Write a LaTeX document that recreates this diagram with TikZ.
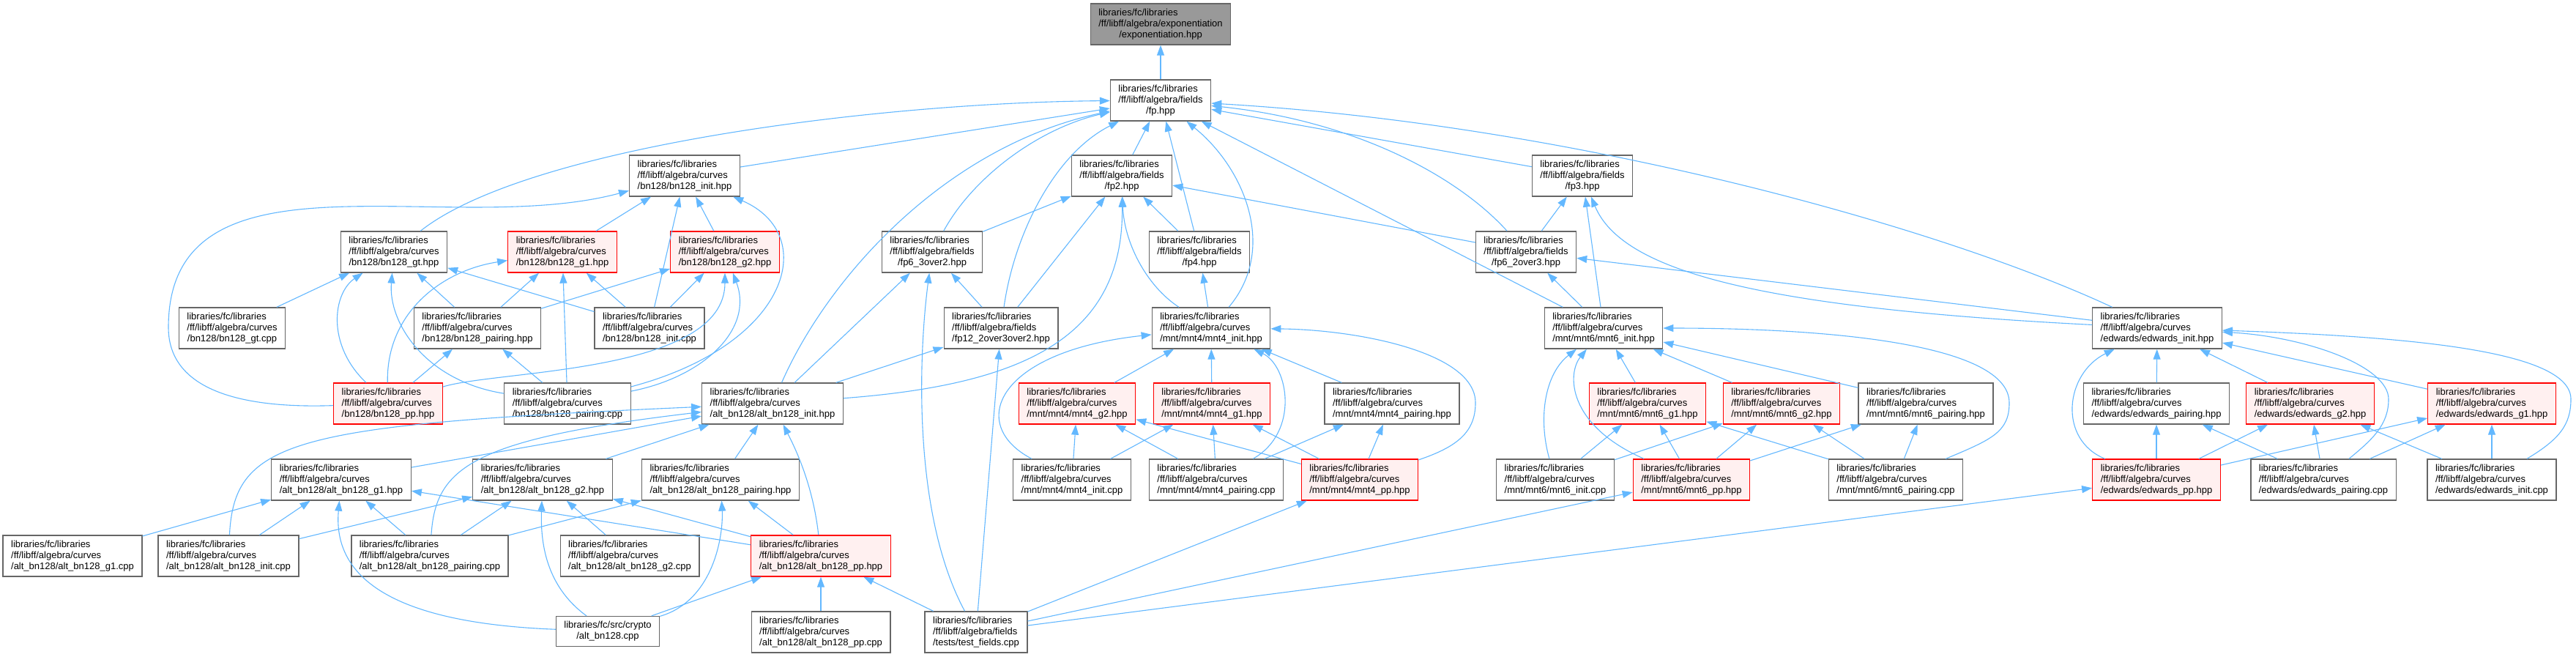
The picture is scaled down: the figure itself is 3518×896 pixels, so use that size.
\documentclass[tikz,border=0pt]{standalone}
\usepackage{fontspec}
\setmainfont{Liberation Sans}
\usepackage{xcolor}
\usepackage{tikz}
\usetikzlibrary{arrows.meta}
\definecolor{boxline}{HTML}{666666}
\definecolor{rootfill}{HTML}{999999}
\definecolor{hotfill}{HTML}{FFF0F0}
\definecolor{deplink}{HTML}{63B8FF}
\newcommand{\srcpath}[3]{\begin{tabular}{@{}l@{}}#1\\#2\\\multicolumn{1}{@{}c@{}}{#3}\end{tabular}}
\newcommand{\curvefile}[1]{\srcpath{libraries/fc/libraries}{/ff/libff/algebra/curves}{#1}}
\newcommand{\fieldfile}[1]{\srcpath{libraries/fc/libraries}{/ff/libff/algebra/fields}{#1}}

\begin{document}
\begin{tikzpicture}[x=0.5pt,y=-0.5pt,
  srcbox/.style={rectangle,draw=boxline,fill=white,line width=0.65pt,
                 inner xsep=5.5pt,inner ysep=0pt,minimum height=28pt,
                 font=\fontsize{6.5pt}{7.5pt}\selectfont},
  hotbox/.style={srcbox,draw=red,fill=hotfill},
  rootbox/.style={srcbox,fill=rootfill},
  dep/.style={draw=deplink,line width=0.55pt,-{Triangle[length=7pt,width=5pt]}}
]
\path[use as bounding box,fill=white] (0,0) rectangle (3518,896);
% root and fp
\node[rootbox] (expo) at (1585,33) {\srcpath{libraries/fc/libraries}{/ff/libff/algebra/exponentiation}{/exponentiation.hpp}};
\node[srcbox] (fp) at (1585,137) {\fieldfile{/fp.hpp}};
% row 2
\node[srcbox] (bninit) at (935,240) {\curvefile{/bn128/bn128\_init.hpp}};
\node[srcbox] (fp2) at (1532,240) {\fieldfile{/fp2.hpp}};
\node[srcbox] (fp3) at (2161,240) {\fieldfile{/fp3.hpp}};
% row 3
\node[srcbox] (bngt) at (538,344) {\curvefile{/bn128/bn128\_gt.hpp}};
\node[hotbox] (bng1) at (768,344) {\curvefile{/bn128/bn128\_g1.hpp}};
\node[hotbox] (bng2) at (990,344) {\curvefile{/bn128/bn128\_g2.hpp}};
\node[srcbox] (fp6a) at (1273,344) {\fieldfile{/fp6\_3over2.hpp}};
\node[srcbox] (fp4) at (1638,344) {\fieldfile{/fp4.hpp}};
\node[srcbox] (fp6b) at (2084,344) {\fieldfile{/fp6\_2over3.hpp}};
% row 4
\node[srcbox] (bngtcpp) at (317,448) {\curvefile{/bn128/bn128\_gt.cpp}};
\node[srcbox] (bnpair) at (652,448) {\curvefile{/bn128/bn128\_pairing.hpp}};
\node[srcbox] (bninitcpp) at (887,448) {\curvefile{/bn128/bn128\_init.cpp}};
\node[srcbox] (fp12) at (1367,448) {\fieldfile{/fp12\_2over3over2.hpp}};
\node[srcbox] (m4init) at (1654,448) {\curvefile{/mnt/mnt4/mnt4\_init.hpp}};
\node[srcbox] (m6init) at (2190,448) {\curvefile{/mnt/mnt6/mnt6\_init.hpp}};
\node[srcbox] (edinit) at (2946,448) {\curvefile{/edwards/edwards\_init.hpp}};
% row 5
\node[hotbox] (bnpp) at (530,551) {\curvefile{/bn128/bn128\_pp.hpp}};
\node[srcbox] (bnpaircpp) at (775,551) {\curvefile{/bn128/bn128\_pairing.cpp}};
\node[srcbox] (altinit) at (1055,551) {\curvefile{/alt\_bn128/alt\_bn128\_init.hpp}};
\node[hotbox] (m4g2) at (1471,551) {\curvefile{/mnt/mnt4/mnt4\_g2.hpp}};
\node[hotbox] (m4g1) at (1655,551) {\curvefile{/mnt/mnt4/mnt4\_g1.hpp}};
\node[srcbox] (m4pair) at (1901,551) {\curvefile{/mnt/mnt4/mnt4\_pairing.hpp}};
\node[hotbox] (m6g1) at (2250,551) {\curvefile{/mnt/mnt6/mnt6\_g1.hpp}};
\node[hotbox] (m6g2) at (2433,551) {\curvefile{/mnt/mnt6/mnt6\_g2.hpp}};
\node[srcbox] (m6pair) at (2630,551) {\curvefile{/mnt/mnt6/mnt6\_pairing.hpp}};
\node[srcbox] (edpair) at (2945,551) {\curvefile{/edwards/edwards\_pairing.hpp}};
\node[hotbox] (edg2) at (3155,551) {\curvefile{/edwards/edwards\_g2.hpp}};
\node[hotbox] (edg1) at (3403,551) {\curvefile{/edwards/edwards\_g1.hpp}};
% row 6
\node[srcbox] (altg1) at (466,655) {\curvefile{/alt\_bn128/alt\_bn128\_g1.hpp}};
\node[srcbox] (altg2) at (741,655) {\curvefile{/alt\_bn128/alt\_bn128\_g2.hpp}};
\node[srcbox] (altpair) at (984,655) {\curvefile{/alt\_bn128/alt\_bn128\_pairing.hpp}};
\node[srcbox] (m4initcpp) at (1464,655) {\curvefile{/mnt/mnt4/mnt4\_init.cpp}};
\node[srcbox] (m4paircpp) at (1661,655) {\curvefile{/mnt/mnt4/mnt4\_pairing.cpp}};
\node[hotbox] (m4pp) at (1857,655) {\curvefile{/mnt/mnt4/mnt4\_pp.hpp}};
\node[srcbox] (m6initcpp) at (2124,655) {\curvefile{/mnt/mnt6/mnt6\_init.cpp}};
\node[hotbox] (m6pp) at (2310,655) {\curvefile{/mnt/mnt6/mnt6\_pp.hpp}};
\node[srcbox] (m6paircpp) at (2589,655) {\curvefile{/mnt/mnt6/mnt6\_pairing.cpp}};
\node[hotbox] (edpp) at (2945,655) {\curvefile{/edwards/edwards\_pp.hpp}};
\node[srcbox] (edpaircpp) at (3173,655) {\curvefile{/edwards/edwards\_pairing.cpp}};
\node[srcbox] (edinitcpp) at (3403,655) {\curvefile{/edwards/edwards\_init.cpp}};
% row 7
\node[srcbox] (altg1cpp) at (99,759) {\curvefile{/alt\_bn128/alt\_bn128\_g1.cpp}};
\node[srcbox] (altinitcpp) at (312,759) {\curvefile{/alt\_bn128/alt\_bn128\_init.cpp}};
\node[srcbox] (altpaircpp) at (587,759) {\curvefile{/alt\_bn128/alt\_bn128\_pairing.cpp}};
\node[srcbox] (altg2cpp) at (860,759) {\curvefile{/alt\_bn128/alt\_bn128\_g2.cpp}};
\node[hotbox] (altpp) at (1121,759) {\curvefile{/alt\_bn128/alt\_bn128\_pp.hpp}};
% row 8
\node[srcbox,minimum height=20.5pt] (altcpp) at (830,862) {\begin{tabular}{@{}l@{}}libraries/fc/src/crypto\\\multicolumn{1}{@{}c@{}}{/alt\_bn128.cpp}\end{tabular}};
\node[srcbox] (altppcpp) at (1121,863) {\curvefile{/alt\_bn128/alt\_bn128\_pp.cpp}};
\node[srcbox] (tests) at (1333,863) {\fieldfile{/tests/test\_fields.cpp}};
% fields
\draw[dep] (fp) -- (expo);
\draw[dep] (bngt) .. controls (720,200) and (1200,140) .. (fp);
\draw[dep] (bninit) -- (fp);
\draw[dep] (altinit) .. controls (1130,380) and (1290,200) .. (fp);
\draw[dep] (fp6a) .. controls (1330,240) and (1420,175) .. (fp);
\draw[dep] (fp12) .. controls (1385,320) and (1440,210) .. (fp);
\draw[dep] (fp2) -- (fp);
\draw[dep] (fp4) -- (fp);
\draw[dep] (m4init) .. controls (1745,340) and (1700,230) .. (fp);
\draw[dep] (m6init) -- (fp);
\draw[dep] (fp3) -- (fp);
\draw[dep] (fp6b) .. controls (1990,240) and (1850,165) .. (fp);
\draw[dep] (edinit) .. controls (2650,310) and (2150,170) .. (fp);
\draw[dep] (fp4) -- (fp2);
\draw[dep] (fp6a) -- (fp2);
\draw[dep] (fp12) -- (fp2);
\draw[dep] (altinit) .. controls (1400,525) and (1535,460) .. (fp2);
\draw[dep] (m4init) .. controls (1565,390) and (1535,330) .. (fp2);
\draw[dep] (fp6b) -- (fp2);
\draw[dep] (fp6b) -- (fp3);
\draw[dep] (m6init) -- (fp3);
\draw[dep] (edinit) .. controls (2400,420) and (2215,370) .. (fp3);
\draw[dep] (m4init) -- (fp4);
\draw[dep] (fp12) -- (fp6a);
\draw[dep] (altinit) -- (fp6a);
\draw[dep] (tests) .. controls (1245,700) and (1255,480) .. (fp6a);
\draw[dep] (m6init) -- (fp6b);
\draw[dep] (edinit) -- (fp6b);
\draw[dep] (altinit) -- (fp12);
\draw[dep] (tests) -- (fp12);
% bn128
\draw[dep] (bng1) -- (bninit);
\draw[dep] (bng2) -- (bninit);
\draw[dep] (bninitcpp) -- (bninit);
\draw[dep] (bnpp) to[out=182,in=270] (230,447) to[out=90,in=195] (bninit);
\draw[dep] (bnpaircpp) .. controls (1080,470) and (1120,320) .. (bninit);
\draw[dep] (bngtcpp) -- (bngt);
\draw[dep] (bnpp) .. controls (445,470) and (455,400) .. (bngt);
\draw[dep] (bnpaircpp) .. controls (580,520) and (530,440) .. (bngt);
\draw[dep] (bnpair) -- (bngt);
\draw[dep] (bninitcpp) -- (bngt);
\draw[dep] (bnpp) .. controls (527,430) and (600,370) .. (bng1);
\draw[dep] (bnpair) -- (bng1);
\draw[dep] (bnpaircpp) -- (bng1);
\draw[dep] (bninitcpp) -- (bng1);
\draw[dep] (bnpp) .. controls (680,505) and (990,510) .. (bng2);
\draw[dep] (bnpaircpp) .. controls (960,515) and (1030,450) .. (bng2);
\draw[dep] (bnpair) -- (bng2);
\draw[dep] (bninitcpp) -- (bng2);
\draw[dep] (bnpp) -- (bnpair);
\draw[dep] (bnpaircpp) -- (bnpair);
% alt_bn128
\draw[dep] (altg1) -- (altinit);
\draw[dep] (altg2) -- (altinit);
\draw[dep] (altpair) -- (altinit);
\draw[dep] (altinitcpp) .. controls (320,600) and (400,580) .. (altinit);
\draw[dep] (altpaircpp) .. controls (595,640) and (640,600) .. (altinit);
\draw[dep] (altpp) .. controls (1110,660) and (1085,610) .. (altinit);
\draw[dep] (altg1cpp) -- (altg1);
\draw[dep] (altinitcpp) -- (altg1);
\draw[dep] (altpaircpp) -- (altg1);
\draw[dep] (altcpp) .. controls (520,850) and (455,780) .. (altg1);
\draw[dep] (altpp) -- (altg1);
\draw[dep] (altinitcpp) -- (altg2);
\draw[dep] (altpaircpp) -- (altg2);
\draw[dep] (altg2cpp) -- (altg2);
\draw[dep] (altcpp) .. controls (745,800) and (738,740) .. (altg2);
\draw[dep] (altpp) -- (altg2);
\draw[dep] (altpaircpp) -- (altpair);
\draw[dep] (altpp) -- (altpair);
\draw[dep] (altcpp) .. controls (975,820) and (988,730) .. (altpair);
\draw[dep] (altcpp) -- (altpp);
\draw[dep] (altppcpp) -- (altpp);
\draw[dep] (tests) -- (altpp);
% test_fields
\draw[dep] (tests) -- (m4pp);
\draw[dep] (tests) -- (m6pp);
\draw[dep] (tests) -- (edpp);
% mnt4
\draw[dep] (m4g2) -- (m4init);
\draw[dep] (m4g1) -- (m4init);
\draw[dep] (m4pair) -- (m4init);
\draw[dep] (m4initcpp) .. controls (1320,580) and (1360,480) .. (m4init);
\draw[dep] (m4paircpp) .. controls (1775,590) and (1760,500) .. (m4init);
\draw[dep] (m4pp) .. controls (1990,610) and (2015,590) .. (2015,550) .. controls (2015,480) and (1850,450) .. (m4init);
\draw[dep] (m4initcpp) -- (m4g2);
\draw[dep] (m4paircpp) -- (m4g2);
\draw[dep] (m4pp) -- (m4g2);
\draw[dep] (m4initcpp) -- (m4g1);
\draw[dep] (m4paircpp) -- (m4g1);
\draw[dep] (m4pp) -- (m4g1);
\draw[dep] (m4paircpp) -- (m4pair);
\draw[dep] (m4pp) -- (m4pair);
% mnt6
\draw[dep] (m6g1) -- (m6init);
\draw[dep] (m6g2) -- (m6init);
\draw[dep] (m6pair) -- (m6init);
\draw[dep] (m6initcpp) .. controls (2100,570) and (2110,510) .. (m6init);
\draw[dep] (m6pp) .. controls (2140,580) and (2140,510) .. (m6init);
\draw[dep] (m6paircpp) .. controls (2720,600) and (2744,590) .. (2744,550) .. controls (2744,470) and (2500,448) .. (m6init);
\draw[dep] (m6initcpp) -- (m6g1);
\draw[dep] (m6pp) -- (m6g1);
\draw[dep] (m6paircpp) -- (m6g1);
\draw[dep] (m6initcpp) -- (m6g2);
\draw[dep] (m6pp) -- (m6g2);
\draw[dep] (m6paircpp) -- (m6g2);
\draw[dep] (m6pp) -- (m6pair);
\draw[dep] (m6paircpp) -- (m6pair);
% edwards
\draw[dep] (edpair) -- (edinit);
\draw[dep] (edg2) -- (edinit);
\draw[dep] (edg1) -- (edinit);
\draw[dep] (edpp) .. controls (2810,600) and (2820,510) .. (edinit);
\draw[dep] (edpaircpp) .. controls (3240,600) and (3262,580) .. (3262,545) .. controls (3262,500) and (3150,460) .. (edinit);
\draw[dep] (edinitcpp) .. controls (3495,600) and (3511,580) .. (3511,545) .. controls (3511,480) and (3300,460) .. (edinit);
\draw[dep] (edpp) -- (edpair);
\draw[dep] (edpaircpp) -- (edpair);
\draw[dep] (edpp) -- (edg2);
\draw[dep] (edpaircpp) -- (edg2);
\draw[dep] (edinitcpp) -- (edg2);
\draw[dep] (edpp) -- (edg1);
\draw[dep] (edpaircpp) -- (edg1);
\draw[dep] (edinitcpp) -- (edg1);
\end{tikzpicture}
\end{document}
